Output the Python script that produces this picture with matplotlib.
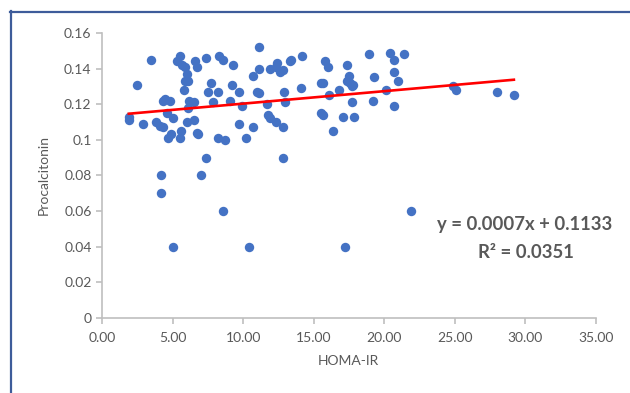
import numpy as np
import matplotlib
matplotlib.use("Agg")
import matplotlib.pyplot as plt
from matplotlib.lines import Line2D

plt.rcParams['font.family'] = ['Lato', 'DejaVu Sans']

# HOMA-IR (x) and Procalcitonin (y)
homa = [1.9, 1.9, 2.5, 3.5, 2.9, 3.8, 4.1, 4.3, 4.3, 4.8, 4.5, 4.6, 5.0, 4.7, 4.9,
        5.5, 5.6, 4.2, 4.2, 5.0, 5.5, 5.3, 5.7, 5.9, 6.0, 5.9, 6.1, 5.8, 6.2, 6.5,
        6.1, 6.0, 6.5, 6.7, 6.8, 6.6, 6.7, 7.4, 7.4, 7.0, 7.7, 7.5, 8.2, 7.9, 8.3,
        8.6, 8.2, 8.7, 8.6, 9.3, 9.1, 9.2, 9.7, 9.9, 9.7, 10.2, 10.4, 10.7, 11.1, 11.1,
        11.0, 11.1, 10.7, 11.7, 11.8, 11.9, 12.3, 11.9, 12.3, 12.4, 12.6, 12.8, 12.8, 12.8,
        12.9, 13.0, 13.3, 13.4, 14.2, 14.1, 15.5, 15.5, 15.8, 16.0, 15.7, 16.1, 15.7, 16.4,
        16.8, 17.4, 17.5, 17.4, 17.6, 17.8, 17.7, 17.1, 17.7, 17.9, 18.9, 19.3, 19.2, 20.1,
        20.4, 20.7, 21.4, 20.7, 21.0, 20.7, 21.9, 17.2, 24.9, 25.1, 28.0, 29.2]
procal = [0.113, 0.111, 0.131, 0.145, 0.109, 0.110, 0.108, 0.107, 0.122, 0.122, 0.123, 0.115, 0.112, 0.101, 0.103,
          0.101, 0.105, 0.080, 0.070, 0.040, 0.147, 0.144, 0.142, 0.141, 0.137, 0.133, 0.133, 0.128, 0.122, 0.121,
          0.118, 0.110, 0.111, 0.104, 0.103, 0.144, 0.141, 0.146, 0.090, 0.080, 0.132, 0.127, 0.127, 0.121, 0.147,
          0.145, 0.101, 0.100, 0.060, 0.142, 0.122, 0.131, 0.127, 0.119, 0.109, 0.101, 0.040, 0.136, 0.140, 0.152,
          0.127, 0.126, 0.107, 0.120, 0.114, 0.112, 0.110, 0.140, 0.141, 0.143, 0.138, 0.139, 0.107, 0.090,
          0.127, 0.121, 0.144, 0.145, 0.147, 0.129, 0.132, 0.115, 0.144, 0.141, 0.132, 0.125, 0.114, 0.105,
          0.128, 0.142, 0.136, 0.133, 0.132, 0.131, 0.130, 0.113, 0.121, 0.113, 0.148, 0.135, 0.122, 0.128,
          0.149, 0.145, 0.148, 0.138, 0.133, 0.119, 0.060, 0.040, 0.130, 0.128, 0.127, 0.125]

# trendline from the chart's equation
slope = 0.0007
intercept = 0.1133
r2 = 0.0351

x_ticks = [0, 5, 10, 15, 20, 25, 30, 35]
y_ticks = [0, 0.02, 0.04, 0.06, 0.08, 0.1, 0.12, 0.14, 0.16]
y_tick_labels = ["0", "0.02", "0.04", "0.06", "0.08", "0.1", "0.12", "0.14", "0.16"]

fig = plt.figure(figsize=(6.3, 3.93), dpi=100)
ax = fig.add_axes([102 / 630, 1 - 317.7 / 393, (595.7 - 102) / 630, (317.7 - 33) / 393])

ax.scatter(homa, procal, s=46, color="#4472C4", zorder=3, linewidths=0)

xs = np.array([min(homa), max(homa)])
ax.plot(xs, slope * xs + intercept, color="#FF0000", lw=1.9, zorder=4)

ax.set_xlim(0, 35)
ax.set_ylim(0, 0.16)
ax.set_xticks(x_ticks)
ax.set_xticklabels(["%.2f" % v for v in x_ticks])
ax.set_yticks(y_ticks)
ax.set_yticklabels(y_tick_labels)

grey = "#595959"
for side in ["top", "right"]:
    ax.spines[side].set_visible(False)
for side in ["left", "bottom"]:
    ax.spines[side].set_color("#BFBFBF")
    ax.spines[side].set_linewidth(1.2)
ax.tick_params(axis="both", colors="#BFBFBF", length=4, width=1.2, labelcolor=grey, labelsize=10)
ax.tick_params(axis="x", pad=6)

ax.set_xlabel("HOMA-IR", fontsize=10, color=grey, labelpad=8)
ax.set_ylabel("Procalcitonin", fontsize=10, color=grey, labelpad=10)

ax.text(525 / 630, 1 - 225 / 393, "y = 0.0007x + 0.1133", transform=fig.transFigure,
        ha="center", va="center", fontsize=13.3, fontweight="bold", color=grey)
ax.text(526 / 630, 1 - 252 / 393, "R² = %.4f" % r2, transform=fig.transFigure,
        ha="center", va="center", fontsize=13.3, fontweight="bold", color=grey)

# chart frame (only top and left edges show)
fig.add_artist(Line2D([10.5 / 630, 10.5 / 630], [1 - 11 / 393, 0], transform=fig.transFigure,
                      color="#3E5C9A", lw=1.6))
fig.add_artist(Line2D([10 / 630, 1], [1 - 11.5 / 393, 1 - 11.5 / 393], transform=fig.transFigure,
                      color="#3E5C9A", lw=1.6))

fig.savefig("out.png", dpi=100)
